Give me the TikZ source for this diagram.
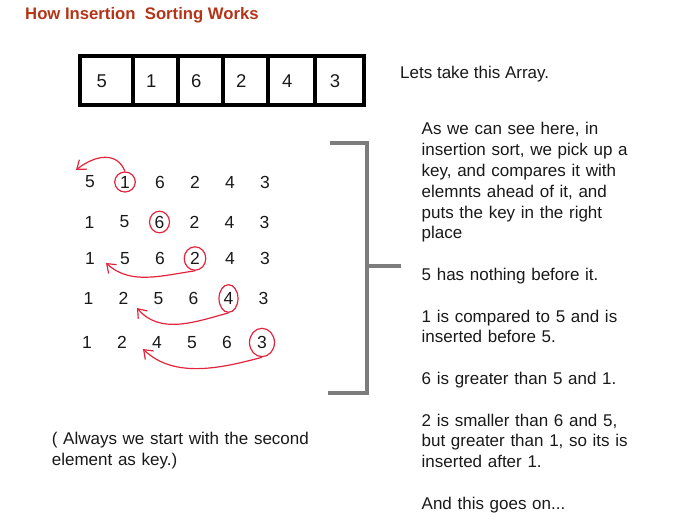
\documentclass[tikz,border=0pt]{standalone}
\usepackage{fontspec}
\setmainfont{Liberation Sans}
\usetikzlibrary{arrows.meta,shapes.geometric}
\definecolor{titlered}{RGB}{180,52,24}
\definecolor{keyred}{RGB}{226,36,60}
\definecolor{inkgray}{RGB}{25,25,25}
\definecolor{bracketgray}{RGB}{125,125,125}
\tikzset{
  cellbox/.style={draw, line width=4pt, minimum height=49pt, inner sep=0pt},
  digit/.style={inner sep=0pt, text=inkgray, font=\fontsize{17.5}{21}\selectfont},
  keyring/.style={ellipse, draw=keyred, line width=1.2pt, inner sep=0pt},
  move/.style={keyred, line width=1.2pt, -{Straight Barb[length=8pt,width=12pt]}},
  note/.style={inner sep=0pt, anchor=base west, align=left, text=inkgray,
    font=\fontsize{17}{20.8}\selectfont},
  bracket/.style={bracketgray, line width=4pt},
}

\begin{document}
\begin{tikzpicture}[x=1pt, y=-1pt]
  \useasboundingbox (0,0) rectangle (686,524);

  % Title
  \node[note, text=titlered, font=\bfseries\fontsize{16.7}{20}\selectfont]
    (title) at (25,20) {How Insertion\ \ Sorting Works};

  % The array
  \foreach \l/\r/\v [count=\i] in {79.5/132.6/5, 132.6/178.3/1, 178.3/223/6,
                                   223/268.3/2, 268.3/315/4, 315/363.7/3} {
    \pgfmathsetmacro\w{\r-\l}
    \node[cellbox, minimum width=\w pt] (cell-\i) at ({(\l+\r)/2},80.8) {};
    \node[digit, font=\fontsize{18.5}{22}\selectfont]
      (val-\i) at ([xshift=-4.3pt]cell-\i.center) {\v};
  }
  \node[note] (hint) at (400,79) {Lets take this Array.};

  % Passes of the sort, key ringed in red
  \foreach \row/\ypos/\dx/\vals/\key/\rx/\ry in {
      1/182/0/{5,1,6,2,4,3}/2/10.3/10,
      2/222/-0.5/{1,5,6,2,4,3}/3/10/10.8,
      3/258.5/0/{1,5,6,2,4,3}/4/10.8/11.7,
      4/298.5/-1.5/{1,2,5,6,4,3}/5/9.5/13.8,
      5/342.5/-3/{1,2,4,5,6,3}/6/12.5/14.2} {
    \foreach \v [count=\c] in \vals {
      \node[digit] (n-\row-\c) at ({90+\dx+35*(\c-1)},\ypos) {\v};
    }
    \node[keyring, minimum width=2*\rx pt, minimum height=2*\ry pt]
      (k\row) at (n-\row-\key) {};
  }

  % Where each key is moved to
  \coordinate (tip1) at (76,170);
  \coordinate (tip3) at (106,263);
  \coordinate (tip4) at (137,308);
  \coordinate (tip5) at (143,349);
  \draw[move] (k1.north) .. controls (117,151) and (95,155) .. (tip1);
  \draw[move] (k3.south) .. controls (160,276) and (130,285) .. (tip3);
  \draw[move] (k4.south) .. controls (195,322) and (160,335) .. (tip4);
  \draw[move] (k5.south) .. controls (225,367) and (175,380) .. (tip5);

  % Bracket
  \draw[bracket] (330,143) -- (367,143) -- (367,393) -- (328,393);
  \draw[bracket] (367,266) -- (401,266);

  % Explanation
  \node[note, text width=250pt] (explain) at (421.5,135) {As we can see here, in\\
    insertion sort, we pick up a\\
    key, and compares it with\\
    elemnts ahead of it, and\\
    puts the key in the right\\
    place\\[20.8pt]
    5 has nothing before it.\\[20.8pt]
    1 is compared to 5 and is\\
    inserted before 5.\\[20.8pt]
    6 is greater than 5 and 1.\\[20.8pt]
    2 is smaller than 6 and 5,\\
    but greater than 1, so its is\\
    inserted after 1.\\[20.8pt]
    And this goes on...};

  \node[note, text width=270pt] (aside) at (51.7,444.3)
    {( Always we start with the second\\ element as key.)};
\end{tikzpicture}
\end{document}
